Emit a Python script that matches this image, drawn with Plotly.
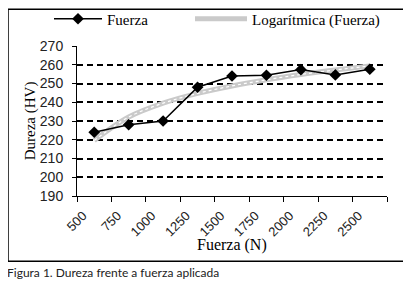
import plotly.graph_objects as go

# Data
fuerza = [625, 875, 1125, 1375, 1625, 1875, 2125, 2375, 2625]
dureza = [224, 228, 230, 248, 254, 254.4, 257.4, 254.6, 257.6]
tendencia = [219.6, 232.1, 239.5, 244.7, 248.7, 252.0, 254.8, 257.2, 259.4]
x_ticks = [500, 750, 1000, 1250, 1500, 1750, 2000, 2250, 2500, 2750]
x_labels = ["500", "750", "1000", "1250", "1500", "1750", "2000", "2250", "2500", ""]
y_ticks = [190, 200, 210, 220, 230, 240, 250, 260, 270]

# page body has an 8px margin, so the figure is drawn offset by 8px
OFF = 8
W, H = 411 - OFF, 285 - OFF
L, R, T, B = 77 - OFF, 387 - OFF, 45.7 - OFF, 195.7 - OFF
pw, ph = R - L, B - T

def px(x):
    return (x - OFF - L) / pw

def py(y):
    return (B - (y - OFF)) / ph

serif = "Liberation Serif, Times New Roman, serif"
sans = "Liberation Sans, Arial, sans-serif"

fig = go.Figure()
fig.add_trace(go.Scatter(
    x=fuerza, y=tendencia, mode="lines", name="Logarítmica (Fuerza)",
    legend="legend2",
    line=dict(color="#cacaca", width=5, shape="spline"),
))
fig.add_trace(go.Scatter(
    x=fuerza, y=tendencia, mode="lines", showlegend=False, hoverinfo="skip",
    line=dict(color="white", width=1.2, dash="dot", shape="spline"),
))
fig.add_trace(go.Scatter(
    x=fuerza, y=dureza, mode="lines+markers", name="Fuerza",
    legend="legend",
    line=dict(color="black", width=1.5),
    marker=dict(symbol="diamond", size=9, color="black"),
))

fig.update_layout(
    width=W, height=H,
    margin=dict(l=L, r=W - R, t=T, b=H - B, autoexpand=False),
    paper_bgcolor="white", plot_bgcolor="white",
    showlegend=True,
    legend=dict(
        orientation="h", xref="container", yref="container",
        x=(49 - OFF) / W, y=1 - (19 - OFF) / H, xanchor="left", yanchor="middle",
        font=dict(family=serif, size=15, color="black"),
        bgcolor="rgba(0,0,0,0)", itemwidth=48,
    ),
    legend2=dict(
        orientation="h", xref="container", yref="container",
        x=(190 - OFF) / W, y=1 - (19 - OFF) / H, xanchor="left", yanchor="middle",
        font=dict(family=serif, size=15, color="black"),
        bgcolor="rgba(0,0,0,0)", itemwidth=52,
    ),
    xaxis=dict(
        range=[500, 2750], tickvals=x_ticks, ticktext=x_labels,
        tickangle=-45, ticks="outside", ticklen=5, tickcolor="black",
        showline=True, linecolor="black", linewidth=1,
        showgrid=False, zeroline=False, automargin=False,
        ticklabelshift=6, ticklabelstandoff=1,
        tickfont=dict(family=sans, size=13, color="#222"),
    ),
    yaxis=dict(
        range=[190, 270], tickvals=y_ticks, ticks="outside", ticklen=4,
        tickcolor="black", showline=True, linecolor="black", linewidth=1,
        showgrid=True, gridcolor="black", gridwidth=2, griddash="6px,4px",
        zeroline=False, ticklabelstandoff=6, automargin=False,
        tickfont=dict(family=sans, size=14, color="#222"),
    ),
    shapes=[dict(
        type="rect", xref="paper", yref="paper",
        x0=px(8), x1=px(404), y0=py(261), y1=py(9),
        line=dict(color="black", width=1.5), fillcolor="rgba(0,0,0,0)", layer="below",
    )],
    annotations=[
        dict(text="Figura 1. Dureza frente a fuerza aplicada",
             xref="paper", yref="paper", x=px(5), y=py(272),
             xanchor="left", yanchor="middle", showarrow=False,
             font=dict(family="Lato, sans-serif", size=12, color="#222")),
        dict(text="Fuerza (N)", xref="paper", yref="paper",
             x=px(232), y=py(245), xanchor="center", yanchor="middle", showarrow=False,
             font=dict(family=serif, size=16, color="black")),
        dict(text="Dureza (HV)", xref="paper", yref="paper", textangle=-90,
             x=px(30), y=py(121), xanchor="center", yanchor="middle", showarrow=False,
             font=dict(family=serif, size=15, color="black")),
    ],
)

fig.write_html("out.html")
